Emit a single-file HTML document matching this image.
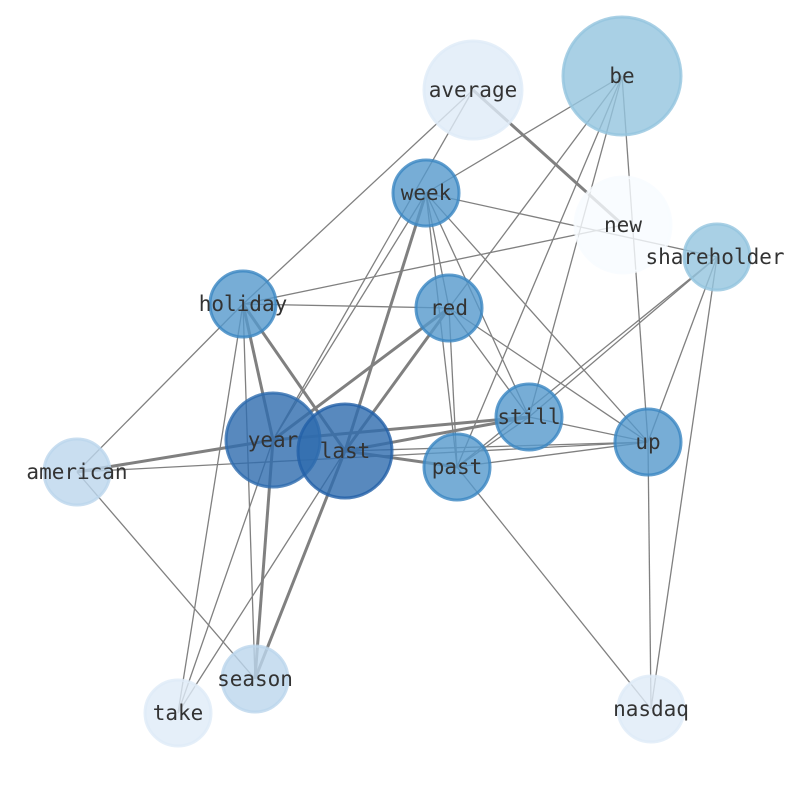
<!DOCTYPE html>
<html><head><style>body{margin:0;background:#fff}svg{display:block}</style></head><body>
<svg width="794" height="790" xmlns="http://www.w3.org/2000/svg">
<g stroke="#808080" stroke-width="1.3" fill="none">
<line x1="473" y1="90" x2="243" y2="304"/>
<line x1="473" y1="90" x2="273" y2="440"/>
<line x1="622" y1="76" x2="426" y2="193"/>
<line x1="622" y1="76" x2="449" y2="308"/>
<line x1="622" y1="76" x2="457" y2="467"/>
<line x1="622" y1="76" x2="529" y2="417"/>
<line x1="622" y1="76" x2="648" y2="442"/>
<line x1="243" y1="304" x2="623" y2="225"/>
<line x1="426" y1="193" x2="717" y2="257"/>
<line x1="426" y1="193" x2="273" y2="440"/>
<line x1="426" y1="193" x2="449" y2="308"/>
<line x1="426" y1="193" x2="457" y2="467"/>
<line x1="426" y1="193" x2="529" y2="417"/>
<line x1="426" y1="193" x2="648" y2="442"/>
<line x1="243" y1="304" x2="449" y2="308"/>
<line x1="243" y1="304" x2="255" y2="679"/>
<line x1="243" y1="304" x2="178" y2="713"/>
<line x1="243" y1="304" x2="77" y2="472"/>
<line x1="449" y1="308" x2="457" y2="467"/>
<line x1="449" y1="308" x2="529" y2="417"/>
<line x1="449" y1="308" x2="648" y2="442"/>
<line x1="717" y1="257" x2="529" y2="417"/>
<line x1="717" y1="257" x2="457" y2="467"/>
<line x1="717" y1="257" x2="648" y2="442"/>
<line x1="717" y1="257" x2="651" y2="709"/>
<line x1="529" y1="417" x2="457" y2="467"/>
<line x1="529" y1="417" x2="648" y2="442"/>
<line x1="77" y1="472" x2="648" y2="442"/>
<line x1="345" y1="451" x2="648" y2="442"/>
<line x1="345" y1="451" x2="178" y2="713"/>
<line x1="273" y1="440" x2="178" y2="713"/>
<line x1="77" y1="472" x2="255" y2="679"/>
<line x1="648" y1="442" x2="651" y2="709"/>
<line x1="457" y1="467" x2="651" y2="709"/>
<line x1="648" y1="442" x2="457" y2="467"/>
</g>
<g stroke="#808080" stroke-width="3" fill="none">
<line x1="473" y1="90" x2="623" y2="225"/>
<line x1="426" y1="193" x2="345" y2="451"/>
<line x1="243" y1="304" x2="273" y2="440"/>
<line x1="243" y1="304" x2="345" y2="451"/>
<line x1="449" y1="308" x2="273" y2="440"/>
<line x1="449" y1="308" x2="345" y2="451"/>
<line x1="529" y1="417" x2="273" y2="440"/>
<line x1="529" y1="417" x2="345" y2="451"/>
<line x1="77" y1="472" x2="273" y2="440"/>
<line x1="345" y1="451" x2="457" y2="467"/>
<line x1="345" y1="451" x2="255" y2="679"/>
<line x1="273" y1="440" x2="255" y2="679"/>
</g>
<g stroke-width="3" fill-opacity="0.8" stroke-opacity="0.8">
<circle cx="473" cy="90" r="49" fill="#deebf7" stroke="#deebf7"/>
<circle cx="622" cy="76" r="59" fill="#94c4df" stroke="#94c4df"/>
<circle cx="623" cy="225" r="48" fill="#f7fbff" stroke="#f7fbff"/>
<circle cx="426" cy="193" r="33" fill="#5598cc" stroke="#3a86c2"/>
<circle cx="717" cy="257" r="33" fill="#94c4df" stroke="#94c4df"/>
<circle cx="243" cy="304" r="33" fill="#5598cc" stroke="#3a86c2"/>
<circle cx="449" cy="308" r="33" fill="#5598cc" stroke="#3a86c2"/>
<circle cx="529" cy="417" r="33" fill="#5598cc" stroke="#3a86c2"/>
<circle cx="648" cy="442" r="33" fill="#5598cc" stroke="#3a86c2"/>
<circle cx="273" cy="440" r="47" fill="#2e6cae" stroke="#2e6cae"/>
<circle cx="345" cy="451" r="47" fill="#2e6cae" stroke="#2360a8"/>
<circle cx="457" cy="467" r="33" fill="#5598cc" stroke="#3a86c2"/>
<circle cx="77" cy="472" r="33" fill="#bcd6ec" stroke="#bcd6ec"/>
<circle cx="255" cy="679" r="33" fill="#bcd6ec" stroke="#bcd6ec"/>
<circle cx="178" cy="713" r="33" fill="#deebf7" stroke="#deebf7"/>
<circle cx="651" cy="709" r="33" fill="#deebf7" stroke="#deebf7"/>
</g>
<g font-family="DejaVu Sans Mono, Liberation Mono, monospace" font-size="21" fill="#333" text-anchor="middle" dominant-baseline="central">
<text x="473" y="90">average</text>
<text x="622" y="76">be</text>
<text x="623" y="225">new</text>
<text x="426" y="193">week</text>
<text x="715" y="257">shareholder</text>
<text x="243" y="304">holiday</text>
<text x="449" y="308">red</text>
<text x="529" y="417">still</text>
<text x="648" y="442">up</text>
<text x="273" y="440">year</text>
<text x="345" y="451">last</text>
<text x="457" y="467">past</text>
<text x="77" y="472">american</text>
<text x="255" y="679">season</text>
<text x="178" y="713">take</text>
<text x="651" y="709">nasdaq</text>
</g>
</svg>
</body></html>
